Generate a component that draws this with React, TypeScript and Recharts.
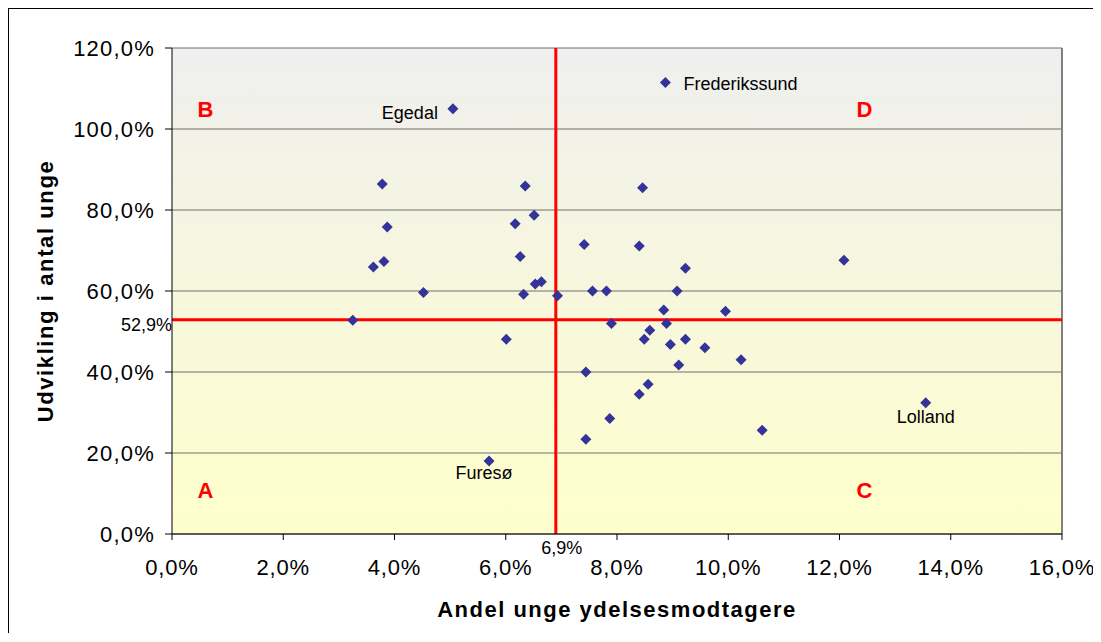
import {
  ScatterChart,
  Scatter,
  XAxis,
  YAxis,
  CartesianGrid,
  ReferenceLine,
  ReferenceDot,
  Label,
} from "recharts";

// andel unge ydelsesmodtagere (%) og udvikling i antal unge (%) pr. kommune
const shareYoung = [
  5.05, 8.87, 3.78, 6.35, 8.46, 6.51, 6.17, 3.87, 7.41, 8.4, 6.26, 12.08, 3.81, 3.62, 9.23,
  6.53, 6.64, 4.52, 6.32, 6.93, 7.56, 7.81, 9.08, 8.84, 9.95, 3.25, 7.9, 8.89, 8.59, 6.01,
  8.49, 9.23, 8.96, 9.58, 10.23, 9.11, 7.44, 8.56, 8.4, 13.55, 7.87, 10.61, 7.44, 5.7,
];
const growth = [
  105.0, 111.5, 86.4, 85.9, 85.5, 78.7, 76.6, 75.8, 71.5, 71.1, 68.5, 67.6, 67.3, 65.9, 65.6,
  61.7, 62.3, 59.6, 59.2, 58.8, 60.0, 60.0, 60.0, 55.3, 55.0, 52.8, 52.0, 52.0, 50.3, 48.1,
  48.1, 48.1, 46.8, 46.0, 43.0, 41.7, 40.0, 37.0, 34.5, 32.4, 28.5, 25.6, 23.4, 18.0,
];
const pointNames = [
  "Egedal", "Frederikssund", "", "", "", "", "", "", "", "", "", "", "", "", "",
  "", "", "", "", "", "", "", "", "", "", "", "", "", "", "",
  "", "", "", "", "", "", "", "", "", "Lolland", "", "", "", "Furesø",
];

const xTicks = [0, 2, 4, 6, 8, 10, 12, 14, 16];
const yTicks = [0, 20, 40, 60, 80, 100, 120];

const avgShare = 6.9;
const avgGrowth = 52.9;

const quadrantLetters = ["A", "B", "C", "D"];
const quadrantX = [0.6, 0.6, 12.45, 12.45];
const quadrantY = [10.7, 105, 10.7, 105];

const data = shareYoung.map((x, i) => ({ x, y: growth[i], name: pointNames[i] }));

const labelPlacement: Record<string, { dx: number; dy: number; anchor: "start" | "middle" | "end" }> = {
  Egedal: { dx: -15, dy: 4, anchor: "end" },
  Frederikssund: { dx: 18, dy: 2, anchor: "start" },
  "Furesø": { dx: -5, dy: 12, anchor: "middle" },
  Lolland: { dx: 0, dy: 14, anchor: "middle" },
};

const FONT = '"Liberation Sans", Arial, sans-serif';
const pct = (v: number) => v.toFixed(1).replace(".", ",") + "%";

function Diamond(props: any) {
  const { cx, cy, payload } = props;
  const r = 5.5;
  const place = payload?.name ? labelPlacement[payload.name] : undefined;
  return (
    <g>
      <path d={`M${cx},${cy - r}L${cx + r},${cy}L${cx},${cy + r}L${cx - r},${cy}Z`} fill="#333399" />
      {place && (
        <text
          x={cx + place.dx}
          y={cy + place.dy}
          textAnchor={place.anchor}
          dominantBaseline="central"
          fontSize={18}
          fontFamily={FONT}
          fill="#000"
        >
          {payload.name}
        </text>
      )}
    </g>
  );
}

export default function App() {
  return (
    <div style={{ borderLeft: "1px solid #000", borderTop: "1px solid #000", width: 1084, height: 624, fontFamily: FONT }}>
      <ScatterChart width={1090} height={624} margin={{ top: 39, right: 37, left: 0, bottom: 39 }}>
        <defs>
          <linearGradient id="plotBg" x1="0" y1="0" x2="0" y2="1">
            <stop offset="0%" stopColor="#efefef" />
            <stop offset="100%" stopColor="#ffffcc" />
          </linearGradient>
        </defs>
        <CartesianGrid vertical={false} stroke="#6e6e6e" fill="url(#plotBg)" fillOpacity={1} />
        <XAxis
          type="number"
          dataKey="x"
          domain={[0, 16]}
          ticks={xTicks}
          tickFormatter={pct}
          height={60}
          tickSize={6}
          tickMargin={19}
          axisLine={{ stroke: "#000" }}
          tickLine={{ stroke: "#000" }}
          tick={{ fill: "#000", fontSize: 22, fontFamily: FONT, letterSpacing: 0.8 }}
        >
          <Label
            value="Andel unge ydelsesmodtagere"
            position="bottom"
            offset={7}
            style={{ fontSize: 22, fontWeight: "bold", fill: "#000", fontFamily: FONT, letterSpacing: 1.5 }}
          />
        </XAxis>
        <YAxis
          type="number"
          dataKey="y"
          domain={[0, 120]}
          ticks={yTicks}
          tickFormatter={pct}
          width={163}
          tickSize={7}
          tickMargin={10}
          axisLine={{ stroke: "#000" }}
          tickLine={{ stroke: "#000" }}
          tick={{ fill: "#000", fontSize: 22, fontFamily: FONT, letterSpacing: 1.2 }}
        >
          <Label
            value="Udvikling i antal unge"
            angle={-90}
            position="insideLeft"
            offset={36}
            style={{ textAnchor: "middle", fontSize: 22, fontWeight: "bold", fill: "#000", fontFamily: FONT, letterSpacing: 1.6 }}
          />
        </YAxis>
        <ReferenceLine x={16} stroke="#808080" strokeWidth={2} />
        <Scatter data={data} shape={Diamond} isAnimationActive={false} />
        <ReferenceLine
          y={avgGrowth}
          stroke="#ff0000"
          strokeWidth={3}
          label={{ value: pct(avgGrowth), position: "left", offset: 0, dy: 5, fontSize: 18, fill: "#000", fontFamily: FONT }}
        />
        <ReferenceLine
          x={avgShare}
          stroke="#ff0000"
          strokeWidth={3}
          label={{ value: pct(avgShare), position: "bottom", offset: 7, dx: 6, fontSize: 18, fill: "#000", fontFamily: FONT }}
        />
        {quadrantLetters.map((letter, i) => (
          <ReferenceDot
            key={letter}
            x={quadrantX[i]}
            y={quadrantY[i]}
            r={0.1}
            fill="none"
            stroke="none"
            label={{ value: letter, position: "center", fontSize: 22, fontWeight: "bold", fill: "#ff0000", fontFamily: FONT }}
          />
        ))}
      </ScatterChart>
    </div>
  );
}
